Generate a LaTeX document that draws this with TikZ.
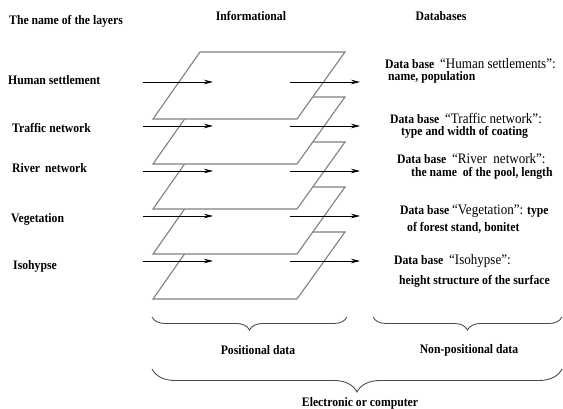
\documentclass[tikz,border=0pt]{standalone}
\usepackage{fontspec}
\setmainfont[FakeStretch=0.9]{Liberation Serif}
\usetikzlibrary{arrows.meta,decorations.pathreplacing}

\newcommand{\quoted}[1]{{\fontsize{14.5}{12}\selectfont\mdseries #1}}

\tikzset{
  lbl/.style={font=\fontsize{13}{15}\selectfont\bfseries, inner sep=0pt, anchor=west},
  hdr/.style={font=\fontsize{13}{15}\selectfont\bfseries, inner sep=0pt},
  % anchored on the baseline of the second line
  dbtxt/.style={font=\fontsize{13}{12}\selectfont\bfseries, inner sep=0pt,
    anchor=base west, align=left},
  layer/.style={draw=black!50, fill=white, line width=1.1pt, line join=miter},
  feed/.style={draw=black, line width=0.8pt, -{Stealth[length=9pt,width=4.5pt]}},
  curly/.style={draw=black!70, line width=0.9pt, decorate},
}

\begin{document}
\begin{tikzpicture}[x=1pt, y=-1pt]
\useasboundingbox (0,0) rectangle (563,409);

% column headings
\node[lbl] (hLayers) at (9,21) {The name of the layers};
\node[hdr] (hInfo) at (251,16) {Informational};
\node[hdr] (hDb) at (441,16) {Databases};

% stacked map layers, drawn bottom-up so each one hides the layer below
\foreach \i/\t in {5/232,4/187,3/142,2/97,1/52}{
  \coordinate (L\i tl) at (200,\t);
  \coordinate (L\i tr) at (345,\t);
  \coordinate (L\i br) at (297,\t+67);
  \coordinate (L\i bl) at (153,\t+67);
  \draw[layer] (L\i tl) -- (L\i tr) -- (L\i br) -- (L\i bl) -- cycle;
}

% layer names on the left
\node[lbl] (n1) at (8,80)  {Human settlement};
\node[lbl] (n2) at (12,128) {Traffic network};
\node[lbl] (n3) at (12,168) {River\, network};
\node[lbl] (n4) at (11,219) {Vegetation};
\node[lbl] (n5) at (13,266) {Isohypse};

% arrows into and out of each layer
\foreach \i/\y in {1/82,2/126,3/171,4/216,5/261}{
  \coordinate (in\i a) at (143,\y);
  \coordinate (in\i b) at (213,\y);
  \coordinate (out\i a) at (290,\y);
  \coordinate (out\i b) at (360,\y);
  \draw[feed] (in\i a) -- (in\i b);
  \draw[feed] (out\i a) -- (out\i b);
}

% database descriptions
\node[dbtxt] (d1) at (385,80.5)
  {Data base\ \ \quoted{“Human settlements”:}\\\hspace*{3pt}name, population};
\node[dbtxt] (d2) at (390,136)
  {Data base\ \ \quoted{“Traffic network”:}\\\hspace*{11pt}type and width of coating};
\node[dbtxt] (d3) at (397,177)
  {Data base\ \ \quoted{“River\ \ network”:}\\[1pt]\hspace*{14pt}the name\ \ of the pool, length};
\node[dbtxt] (d4) at (400,232)
  {Data base \quoted{“Vegetation”:} type\\[4pt]\hspace*{7pt}of forest stand, bonitet};
\node[dbtxt] (d5) at (394,284)
  {Data base\ \ \quoted{“Isohypse”:}\\[6pt]\hspace*{5pt}height structure of the surface};

% grouping braces
\coordinate (b1l) at (152,317);
\coordinate (b1r) at (347,317);
\coordinate (b2l) at (373,317);
\coordinate (b2r) at (562,317);
\coordinate (b3l) at (152,369);
\coordinate (b3r) at (562,369);
\draw[curly, decoration={brace, mirror, amplitude=13pt}] (b1l) -- (b1r);
\draw[curly, decoration={brace, mirror, amplitude=13pt}] (b2l) -- (b2r);
\draw[curly, decoration={brace, mirror, amplitude=23pt}] (b3l) -- (b3r);

\node[hdr] (gPos) at (258,350) {Positional data};
\node[hdr] (gNon) at (469,350) {Non-positional data};
\node[hdr] (gAll) at (360,403) {Electronic or computer};
\end{tikzpicture}
\end{document}
